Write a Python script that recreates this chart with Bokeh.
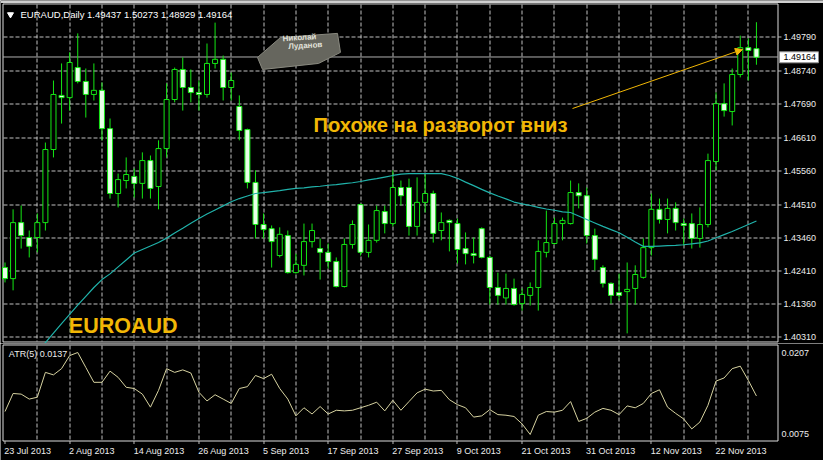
import math
from bokeh.plotting import figure
from bokeh.layouts import column
from bokeh.models import Range1d, Label, Arrow, NormalHead, ColumnDataSource
from bokeh.core.properties import value
from bokeh.embed import file_html
from bokeh.resources import INLINE

# ---------------- data (EURAUD daily, 23 Jul 2013 .. 29 Nov 2013) ----------------
opens = [1.4252, 1.4217, 1.4394, 1.4347, 1.4347, 1.4394, 1.4625, 1.4796, 1.4789, 1.4884,
         1.4840, 1.4799, 1.4812, 1.4691, 1.4486, 1.4527, 1.4540, 1.4518, 1.4590, 1.4508,
         1.4628, 1.4783, 1.4878, 1.4821, 1.4805, 1.4799, 1.4897, 1.4910, 1.4821, 1.4761,
         1.4688, 1.4521, 1.4388, 1.4375, 1.4290, 1.4353, 1.4236, 1.4259, 1.4334, 1.4312,
         1.4300, 1.4271, 1.4192, 1.4325, 1.4451, 1.4300, 1.4338, 1.4429, 1.4391, 1.4505,
         1.4505, 1.4382, 1.4458, 1.4486, 1.4369, 1.4401, 1.4391, 1.4312, 1.4296, 1.4375,
         1.4284, 1.4189, 1.4156, 1.4186, 1.4138, 1.4164, 1.4189, 1.4300, 1.4328, 1.4391,
         1.4391, 1.4489, 1.4479, 1.4353, 1.4252, 1.4202, 1.4173, 1.4176, 1.4186, 1.4221,
         1.4315, 1.4436, 1.4404, 1.4439, 1.4391, 1.4391, 1.4344, 1.4388, 1.4587, 1.4770,
         1.4745, 1.4862, 1.4947, 1.49437]
highs = [1.4268, 1.4436, 1.4448, 1.4369, 1.4423, 1.4647, 1.4843, 1.4897, 1.4932, 1.4992,
         1.4881, 1.4897, 1.4837, 1.4723, 1.4549, 1.4600, 1.4565, 1.4616, 1.4606, 1.4654,
         1.4834, 1.4884, 1.4916, 1.4878, 1.4843, 1.4960, 1.5026, 1.4922, 1.4868, 1.4796,
         1.4691, 1.4559, 1.4423, 1.4385, 1.4379, 1.4369, 1.4296, 1.4391, 1.4391, 1.4344,
         1.4328, 1.4284, 1.4344, 1.4401, 1.4454, 1.4388, 1.4448, 1.4448, 1.4559, 1.4527,
         1.4533, 1.4537, 1.4546, 1.4495, 1.4426, 1.4404, 1.4407, 1.4363, 1.4347, 1.4379,
         1.4290, 1.4236, 1.4233, 1.4217, 1.4186, 1.4205, 1.4338, 1.4432, 1.4410, 1.4410,
         1.4527, 1.4518, 1.4505, 1.4375, 1.4259, 1.4205, 1.4233, 1.4268, 1.4259, 1.4344,
         1.4486, 1.4470, 1.4470, 1.4458, 1.4407, 1.4423, 1.4442, 1.4612, 1.4805, 1.4834,
         1.4881, 1.4985, 1.4976, 1.50273]
lows = [1.4205, 1.4180, 1.4312, 1.4284, 1.4300, 1.4369, 1.4600, 1.4707, 1.4748, 1.4834,
        1.4726, 1.4780, 1.4654, 1.4470, 1.4442, 1.4502, 1.4473, 1.4470, 1.4470, 1.4436,
        1.4600, 1.4774, 1.4748, 1.4774, 1.4748, 1.4789, 1.4881, 1.4780, 1.4780, 1.4654,
        1.4502, 1.4344, 1.4344, 1.4252, 1.4284, 1.4233, 1.4233, 1.4227, 1.4315, 1.4214,
        1.4249, 1.4189, 1.4189, 1.4312, 1.4290, 1.4284, 1.4331, 1.4360, 1.4382, 1.4448,
        1.4353, 1.4353, 1.4426, 1.4331, 1.4338, 1.4303, 1.4265, 1.4262, 1.4265, 1.4281,
        1.4135, 1.4135, 1.4135, 1.4132, 1.4116, 1.4132, 1.4116, 1.4284, 1.4325, 1.4338,
        1.4388, 1.4439, 1.4328, 1.4243, 1.4189, 1.4138, 1.4148, 1.4044, 1.4135, 1.4217,
        1.4290, 1.4391, 1.4360, 1.4369, 1.4322, 1.4312, 1.4315, 1.4379, 1.4559, 1.4729,
        1.4701, 1.4853, 1.4843, 1.48929]
closes = [1.4217, 1.4394, 1.4353, 1.4319, 1.4394, 1.4625, 1.4799, 1.4789, 1.4900, 1.4840,
          1.4799, 1.4812, 1.4691, 1.4486, 1.4530, 1.4546, 1.4518, 1.4590, 1.4502, 1.4628,
          1.4783, 1.4878, 1.4821, 1.4805, 1.4799, 1.4897, 1.4910, 1.4821, 1.4843, 1.4685,
          1.4521, 1.4388, 1.4372, 1.4334, 1.4357, 1.4236, 1.4262, 1.4334, 1.4369, 1.4300,
          1.4271, 1.4192, 1.4325, 1.4388, 1.4300, 1.4338, 1.4432, 1.4391, 1.4505, 1.4479,
          1.4382, 1.4458, 1.4486, 1.4360, 1.4394, 1.4394, 1.4309, 1.4296, 1.4290, 1.4284,
          1.4189, 1.4164, 1.4186, 1.4135, 1.4167, 1.4189, 1.4303, 1.4331, 1.4391, 1.4401,
          1.4489, 1.4479, 1.4353, 1.4278, 1.4202, 1.4164, 1.4164, 1.4183, 1.4230, 1.4315,
          1.4436, 1.4404, 1.4439, 1.4394, 1.4385, 1.4344, 1.4388, 1.4590, 1.4770, 1.4748,
          1.4862, 1.4947, 1.4938, 1.49164]

# moving average (cyan line), starting at bar 4
ma_start = 4
ma_values = [1.3985, 1.4015, 1.4045, 1.4075, 1.4104, 1.4133, 1.4161, 1.4189, 1.4214, 1.4232,
             1.4254, 1.4276, 1.4298, 1.4309, 1.4320, 1.4331, 1.4345, 1.4361, 1.4376, 1.4392,
             1.4407, 1.4421, 1.4434, 1.4447, 1.4460, 1.4470, 1.4478, 1.4486, 1.4489, 1.4492,
             1.4495, 1.4499, 1.4502, 1.4504, 1.4507, 1.4509, 1.4512, 1.4514, 1.4517, 1.4520,
             1.4524, 1.4529, 1.4533, 1.4538, 1.4543, 1.4547, 1.4549, 1.4549, 1.4549, 1.4549,
             1.4549, 1.4543, 1.4534, 1.4522, 1.4511, 1.4499, 1.4488, 1.4478, 1.4469, 1.4459,
             1.4453, 1.4448, 1.4442, 1.4437, 1.4433, 1.4428, 1.4426, 1.4415, 1.4404, 1.4393,
             1.4382, 1.4372, 1.4362, 1.4348, 1.4333, 1.4319, 1.4319, 1.4320, 1.4321, 1.4322,
             1.4324, 1.4327, 1.4330, 1.4336, 1.4346, 1.4356, 1.4366, 1.4377, 1.4388, 1.4399]

# ATR(5) indicator
atr_values = [0.0112, 0.0141, 0.0140, 0.0132, 0.0135, 0.0175, 0.0171, 0.0181, 0.0202, 0.0207,
              0.0183, 0.0159, 0.0159, 0.0177, 0.0167, 0.0151, 0.0149, 0.0140, 0.0119, 0.0146,
              0.0181, 0.0175, 0.0179, 0.0174, 0.0143, 0.0129, 0.0139, 0.0132, 0.0125, 0.0149,
              0.0152, 0.0170, 0.0165, 0.0172, 0.0149, 0.0132, 0.0105, 0.0118, 0.0108, 0.0120,
              0.0108, 0.0114, 0.0113, 0.0114, 0.0118, 0.0122, 0.0127, 0.0113, 0.0130, 0.0114,
              0.0128, 0.0142, 0.0148, 0.0145, 0.0146, 0.0131, 0.0123, 0.0118, 0.0103, 0.0105,
              0.0115, 0.0107, 0.0106, 0.0104, 0.0092, 0.0075, 0.0106, 0.0112, 0.0111, 0.0114,
              0.0128, 0.0096, 0.0101, 0.0111, 0.0117, 0.0114, 0.0107, 0.0121, 0.0118, 0.0125,
              0.0141, 0.0147, 0.0119, 0.0109, 0.0100, 0.0084, 0.0095, 0.0122, 0.0161, 0.0166,
              0.0181, 0.0185, 0.0162, 0.0137]

price_ticks = [1.4979, 1.4874, 1.4769, 1.4661, 1.4556, 1.4451, 1.4346, 1.4241, 1.4136, 1.4031]
atr_ticks = [0.0207, 0.0075]
date_ticks = [0, 8, 16, 24, 32, 40, 48, 56, 64, 72, 80, 88]
date_labels = ["23 Jul 2013", "2 Aug 2013", "14 Aug 2013", "26 Aug 2013", "5 Sep 2013",
               "17 Sep 2013", "27 Sep 2013", "9 Oct 2013", "21 Oct 2013", "31 Oct 2013",
               "12 Nov 2013", "22 Nov 2013"]
grid_bars = list(range(4, 94, 4))
last_price = 1.49164
header_text = "EURAUD,Daily  1.49437 1.50273 1.48929 1.49164"
atr_text = "ATR(5) 0.0137"
note_text = "Похоже на разворот вниз"
symbol_text = "EUROAUD"
logo_lines = ["Николай", "Луданов"]

# ---------------- layout constants ----------------
FONT = "Liberation Sans"
GREEN = "#14E614"
BEAR_FILL = "#E8FFE8"
GOLD = "#F2B705"
GRID = "#C0C0C0"
BORDER = "#DCDCDC"
MA_COLOR = "#20B2AA"
ATR_COLOR = "#D6D2A0"
TEXT = "#EDEDED"
DASH_ON, DASH_PERIOD = 4, 6

PX_BAR = 8.08                           # pixels per bar
PX_PRICE = 0.000316                     # price per pixel (main window)
PX_ATR = 0.000161                       # ATR per pixel (indicator window)
X_VIEW = (-0.557, 101.30)               # whole canvas incl. price scale
X_LEFT, X_RIGHT = -0.2475, 95.67        # chart window border
P_VIEW = (1.40120, 1.50959)
P_LO, P_HI = 1.40168, 1.50849           # main window border
A_VIEW = (0.003312, 0.022149)
A_LO, A_HI = 0.006451, 0.021908         # ATR window border
LABEL_X = 96.35
ATR_LABEL_X = 96.1
TICK_X1 = 96.1

n = len(opens)
idx = list(range(n))
x_range = Range1d(*X_VIEW)


def px_x(v):
    return (v - X_VIEW[0]) * PX_BAR


def data_x(px):
    return X_VIEW[0] + px / PX_BAR


def h_dash_boxes(levels, top, unit, on=DASH_ON, period=DASH_PERIOD):
    """filled 1-pixel-high dash boxes of horizontal grid lines"""
    L, R, B, T = [], [], [], []
    start, stop = math.ceil(px_x(X_LEFT)), math.floor(px_x(X_RIGHT))
    for lv in levels:
        row = math.floor((top - lv) / unit)
        for p in range(start, stop, period):
            L.append(data_x(p))
            R.append(data_x(min(p + on, stop)))
            T.append(top - row * unit)
            B.append(top - (row + 1) * unit)
    return dict(left=L, right=R, bottom=B, top=T)


def v_dash_boxes(positions, lo, hi, top, unit, on=DASH_ON, period=DASH_PERIOD):
    """filled 1-pixel-wide dash boxes of vertical grid lines"""
    L, R, B, T = [], [], [], []
    start, stop = math.ceil((top - hi) / unit), math.floor((top - lo) / unit)
    for pos in positions:
        col = math.floor(px_x(pos))
        for p in range(start, stop, period):
            L.append(data_x(col))
            R.append(data_x(col + 1))
            T.append(top - p * unit)
            B.append(top - min(p + on, stop) * unit)
    return dict(left=L, right=R, bottom=B, top=T)


QUAD = dict(left="left", right="right", bottom="bottom", top="top")

src = ColumnDataSource(dict(
    x=idx, h=highs, l=lows,
    top=[max(a, b) for a, b in zip(opens, closes)],
    bot=[min(a, b) for a, b in zip(opens, closes)],
    fill=["black" if c > o else BEAR_FILL for o, c in zip(opens, closes)],
))

common = dict(width=823, x_range=x_range, output_backend="svg", toolbar_location=None,
              x_axis_location=None, y_axis_location=None, min_border=0,
              background_fill_color="black", border_fill_color="black",
              outline_line_color=None)

# ---------------- main price panel ----------------
p1 = figure(height=343, y_range=Range1d(*P_VIEW), **common)
p1.grid.visible = False

# window border
p1.quad(left=[X_LEFT], right=[X_RIGHT], bottom=[P_LO], top=[P_HI],
        fill_color=None, line_color=BORDER, line_width=1)

# window frame strip at the very top
p1.quad(left=[X_VIEW[0]], right=[X_VIEW[1]], bottom=[P_VIEW[1] - 2.5 * PX_PRICE],
        top=[P_VIEW[1]], fill_color="#CFCFCF", line_color=None)

# dashed grid drawn as filled boxes
p1.quad(source=ColumnDataSource(h_dash_boxes(price_ticks, P_VIEW[1], PX_PRICE)),
        fill_color=GRID, line_color=None, **QUAD)
p1.quad(source=ColumnDataSource(v_dash_boxes(grid_bars, P_LO, P_HI, P_VIEW[1], PX_PRICE)),
        fill_color=GRID, line_color=None, **QUAD)

# current price line
lp_row = math.floor((P_VIEW[1] - last_price) / PX_PRICE)
lp_y = P_VIEW[1] - (lp_row + 0.5) * PX_PRICE
p1.line([X_LEFT, X_RIGHT], [lp_y, lp_y], line_color="#B0B0B0", line_width=1)

# price scale ticks and labels
tick_ys = [[P_VIEW[1] - (math.floor((P_VIEW[1] - t) / PX_PRICE) + 0.5) * PX_PRICE] * 2
           for t in price_ticks]
tick_xs = [[X_RIGHT, TICK_X1] for _ in price_ticks]
p1.multi_line(xs=tick_xs, ys=tick_ys, line_color="#BDBDBD", line_width=1)
p1.text(x=[LABEL_X] * len(price_ticks), y=list(price_ticks),
        text=["%.5f" % t for t in price_ticks], text_font=value(FONT),
        text_font_size=value("9px"), text_color=TEXT, text_align="left",
        text_baseline="middle")

# current price box
p1.quad(left=[95.85], right=[100.68], bottom=[last_price - 5.5 * PX_PRICE],
        top=[last_price + 5.5 * PX_PRICE], fill_color="white", line_color="#909090")
p1.text(x=[LABEL_X], y=[last_price], text=["%.5f" % last_price], text_font=value(FONT),
        text_font_size=value("9px"), text_color="black", text_align="left",
        text_baseline="middle")

# candles
p1.segment(x0="x", y0="h", x1="x", y1="l", source=src, line_color=GREEN, line_width=1)
p1.vbar(x="x", width=0.62, top="top", bottom="bot", source=src,
        fill_color="fill", line_color=GREEN, line_width=1)

# moving average
p1.line(list(range(ma_start, ma_start + len(ma_values))), ma_values,
        line_color=MA_COLOR, line_width=1.2)

# watermark logo
logo_x = [34.1, 41.15, 41.52, 38.8, 31.87, 31.25]
logo_y = [1.4979, 1.4992, 1.4932, 1.4897, 1.4878, 1.4916]
p1.patch(logo_x, logo_y, fill_color="#66665E", line_color="#8A8A80", line_width=1)
p1.add_layout(Label(x=34.4, y=1.4961, text=logo_lines[0], text_font=FONT,
                    text_font_style="bold", text_font_size="8px", text_color="#E2E2DA",
                    angle=0.06))
p1.add_layout(Label(x=35.1, y=1.4936, text=logo_lines[1], text_font=FONT,
                    text_font_style="bold", text_font_size="8px", text_color="#E2E2DA",
                    angle=0.06))

# header
p1.scatter(x=[0.68], y=[1.50517], marker="inverted_triangle", size=6,
           fill_color="white", line_color="white")
p1.add_layout(Label(x=1.92, y=1.50517, text=header_text, text_font=FONT,
                    text_font_size="9.5px", text_color="white", text_baseline="middle"))

# annotations
p1.add_layout(Label(x=38.18, y=1.47009, text=note_text, text_font=FONT,
                    text_font_style="bold", text_font_size="20.2px", text_color=GOLD,
                    text_baseline="alphabetic"))
p1.add_layout(Label(x=7.9, y=1.40658, text=symbol_text, text_font=FONT,
                    text_font_style="bold", text_font_size="21.5px", text_color=GOLD,
                    text_baseline="alphabetic"))
p1.add_layout(Arrow(end=NormalHead(size=7, fill_color=GOLD, line_color=GOLD, line_width=1),
                    x_start=70.24, y_start=1.47546, x_end=91.27, y_end=1.49411,
                    line_color=GOLD, line_width=1))

# ---------------- ATR panel ----------------
p2 = figure(height=117, y_range=Range1d(*A_VIEW), **common)
p2.grid.visible = False

p2.quad(left=[X_LEFT], right=[X_RIGHT], bottom=[A_LO], top=[A_HI],
        fill_color=None, line_color=BORDER, line_width=1)
p2.quad(source=ColumnDataSource(v_dash_boxes(grid_bars, A_LO, A_HI, A_VIEW[1], PX_ATR)),
        fill_color=GRID, line_color=None, **QUAD)

p2.line(idx, atr_values, line_color=ATR_COLOR, line_width=1)

p2.text(x=[ATR_LABEL_X] * len(atr_ticks), y=list(atr_ticks),
        text=["%.4f" % t for t in atr_ticks],
        text_font=value(FONT), text_font_size=value("9px"), text_color=TEXT,
        text_align="left", text_baseline="middle")
p2.add_layout(Label(x=0.47, y=0.02038, text=atr_text, text_font=FONT,
                    text_font_size="9px", text_color=TEXT, text_baseline="middle"))

# date scale
date_tick_xs = [[data_x(math.floor(px_x(t)) + 0.5)] * 2 for t in date_ticks]
date_tick_ys = [[A_LO, A_LO - 3 * PX_ATR] for _ in date_ticks]
p2.multi_line(xs=date_tick_xs, ys=date_tick_ys, line_color="#BDBDBD", line_width=1)
p2.text(x=[t - 0.08 for t in date_ticks], y=[A_LO - 4.5 * PX_ATR] * len(date_ticks),
        text=list(date_labels), text_font=value(FONT), text_font_size=value("9px"),
        text_color=TEXT, text_align="left", text_baseline="top")

layout = column(p1, p2, spacing=0)
open("out.html", "w").write(file_html(layout, INLINE))
